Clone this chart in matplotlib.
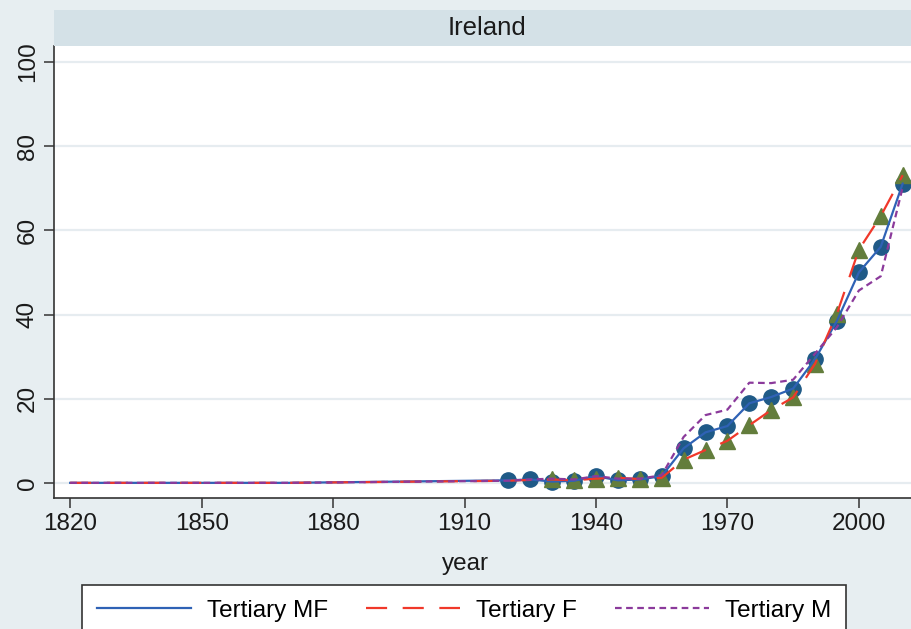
"""
Tertiary education attainment, Ireland (share of population, %).
"""
import numpy as np
import matplotlib
matplotlib.use("Agg")
from matplotlib import pyplot as plt
from matplotlib.patches import Rectangle

plt.rcParams['font.family'] = ['Liberation Sans', 'DejaVu Sans']

# Data
years = [1820, 1870, 1920, 1925, 1930, 1935, 1940, 1945, 1950, 1955,
         1960, 1965, 1970, 1975, 1980, 1985, 1990, 1995, 2000, 2005, 2010]
tertiary_mf = [0.0, 0.0, 0.6, 0.8, 0.3, 0.5, 1.6, 0.6, 0.8, 1.6,
               8.2, 12.0, 13.5, 18.9, 20.4, 22.4, 29.4, 38.5, 50.0, 56.1, 71.1]
tertiary_f = [0.0, 0.0, 0.5, 0.7, 0.8, 0.6, 1.0, 1.2, 0.9, 1.2,
              5.5, 7.8, 10.0, 13.7, 17.3, 20.3, 28.3, 40.2, 55.4, 63.4, 73.1]
tertiary_m = [0.0, 0.0, 0.5, 0.8, 1.0, 0.8, 1.6, 1.0, 1.0, 1.8,
              10.9, 16.1, 17.4, 23.8, 23.7, 24.5, 30.7, 37.0, 45.7, 49.1, 70.2]
# first year with markers drawn
mf_marker_start = 1920
f_marker_start = 1930

xticks = [1820, 1850, 1880, 1910, 1940, 1970, 2000]
yticks = [0, 20, 40, 60, 80, 100]
labels = ["Tertiary MF", "Tertiary F", "Tertiary M"]

bg = "#e7eef1"
strip = "#d4e1e7"
c_mf = "#2f62b5"
c_f = "#f0382a"
c_m = "#8b3a9b"
c_circle = "#1f5a87"
c_tri = "#637d3c"
fs = 17.5

yrs = np.array(years)
mf = np.array(tertiary_mf)
f = np.array(tertiary_f)
m = np.array(tertiary_m)

fig = plt.figure(figsize=(9.11, 6.29), dpi=100, facecolor=bg)
ax = fig.add_axes([54/911, 1 - 498/629, 1 - 54/911, (498 - 46)/629])
ax.set_facecolor("white")

# markers first, lines drawn over them
sel = yrs >= mf_marker_start
ax.plot(yrs[sel], mf[sel], ls="none", marker="o", ms=11,
        color=c_circle, zorder=2)
sel = yrs >= f_marker_start
ax.plot(yrs[sel], f[sel], ls="none", marker="^", ms=11.5,
        color=c_tri, zorder=2)

l1, = ax.plot(yrs, mf, color=c_mf, lw=1.6, zorder=3)
l2, = ax.plot(yrs, f, color=c_f, lw=1.6, ls=(0, (9.5, 7)), zorder=3)
l3, = ax.plot(yrs, m, color=c_m, lw=1.6, ls=(0, (3, 2)), zorder=3)

ax.set_xlim(1816.3, 2011.9)
ax.set_ylim(-3.6, 103.8)
ax.set_xticks(xticks)
ax.set_yticks(yticks)
ax.set_yticklabels([str(t) for t in yticks], rotation=90, va="center")

ax.grid(axis="y", color="#e6ecf0", lw=1.6)
ax.set_axisbelow(True)

ax.spines['top'].set_visible(False)
ax.spines['right'].set_visible(False)
for s in ['left', 'bottom']:
    ax.spines[s].set_color("#333333")
    ax.spines[s].set_linewidth(1.2)

ax.tick_params(axis="both", direction="out", length=7, width=1.1,
               color="#333333", labelsize=fs, labelcolor="#1a1a1a", pad=4)

ax.set_xlabel("year", fontsize=fs, color="#1a1a1a")
ax.xaxis.set_label_coords((465 - 54) / (911 - 54), -0.122)

# header strip
fig.patches.append(Rectangle((54/911, 1 - 46/629), 1 - 54/911, 36/629,
                             transform=fig.transFigure, facecolor=strip,
                             edgecolor="none"))
fig.text(487/911, 1 - 28/629, "Ireland", ha="center", va="center",
         fontsize=18.5, color="#1a1a1a")

leg = fig.legend([l1, l2, l3], labels, ncol=3, loc="upper left",
                 bbox_to_anchor=(82/911, 0.0, 764/911, 1 - 585/629),
                 mode="expand", fontsize=fs, handlelength=3.9,
                 handletextpad=0.65, columnspacing=2.0, borderpad=0.6,
                 borderaxespad=0.0, fancybox=False, frameon=True)
leg.get_frame().set_edgecolor("#333333")
leg.get_frame().set_linewidth(1.2)
leg.get_frame().set_facecolor("white")
leg.get_frame().set_alpha(1.0)

fig.savefig("out.png", dpi=100, facecolor=bg)
plt.close(fig)
